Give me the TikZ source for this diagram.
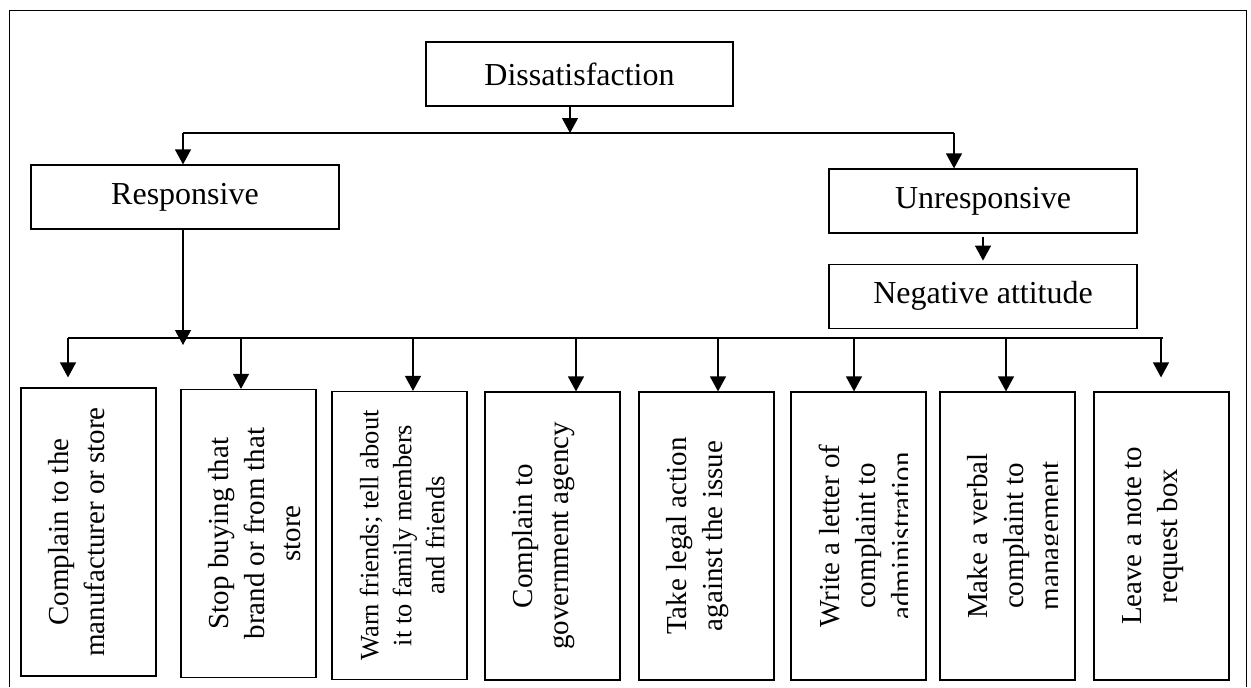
\documentclass[tikz,border=0pt]{standalone}
\usepackage{fontspec}
\setmainfont{Liberation Serif}
\usetikzlibrary{arrows.meta,positioning}

\begin{document}
\begin{tikzpicture}[x=0.5pt,y=-0.5pt,
	box/.style={draw,line width=0.6pt,inner sep=0pt},
	headbox/.style={box,minimum width=154pt,minimum height=32pt,font=\fontsize{16}{19}\selectfont},
	actbox/.style={box,minimum width=67.5pt,minimum height=144pt},
	acttext/.style={rotate=90,anchor=north,align=center,inner sep=0pt,font=\fontsize{14.5}{18}\selectfont},
	link/.style={line width=0.6pt},
	arr/.style={link,-{Triangle[length=7.5pt,width=8pt]}}]
	\useasboundingbox (0,0) rectangle (1251,687);
	% Draw the frame (open at the bottom)
	\draw [line width=0.5pt] (9,687) -- (9,10) -- (1246,10) -- (1246,687);
	% Draw the top boxes
	\node [headbox,minimum width=153.5pt] (dis) at (579.5,74) {Dissatisfaction};
	\node [headbox] (resp) at (185,197) {Responsive};
	\node [headbox] (unresp) at (983,201) {Unresponsive};
	\node [headbox,below=15pt of unresp] (neg) {Negative attitude};
	% Split into the two branches
	\coordinate (split) at (570,133);
	\coordinate (rj) at (183,133);
	\coordinate (uj) at (954,133);
	\draw [arr] (dis.south -| split) -- (split);
	\draw [link] (rj) -- (uj);
	\draw [arr] (rj) -- (rj |- resp.north);
	\draw [arr] (uj) -- (uj |- unresp.north);
	\draw [arr,shorten <=1.5pt,shorten >=1.5pt] (unresp.south) -- (neg.north);
	% Draw the line down from Responsive and the bus line
	\coordinate (rtip) at (183,345);
	\draw [arr] (resp.south -| rtip) -- (rtip);
	\draw [link] (68,338) -- (1163,338);
	% Draw the eight action boxes
	\node [actbox] (b1) at (88.5,532) {};
	\node [actbox] (b2) at (248.5,533.5) {};
	\node [actbox] (b3) at (399.5,535.5) {};
	\node [actbox] (b4) at (552.5,536) {};
	\node [actbox] (b5) at (706.5,536) {};
	\node [actbox] (b6) at (858.5,536) {};
	\node [actbox] (b7) at (1007.5,536) {};
	\node [actbox] (b8) at (1161.5,536) {};
	% Arrows from the bus line down to the boxes
	\foreach \i/\x/\s in {1/68/5pt,2/241/0pt,3/413/0pt,4/576/0pt,5/718/0pt,6/854/0pt,7/1006/0pt,8/1161/7pt} {
		\coordinate (d\i) at (\x,338);
		\draw [arr,shorten >=\s] (d\i) -- (d\i |- b\i.north);
	}
	% Texts in the boxes, turned to read upwards
	\node [acttext] (t1) at ([xshift=14pt]b1.west) {Complain to the\\manufacturer or store};
	\begin{scope}
		\clip (b2.north west) rectangle ([xshift=-8pt]b2.south east);
		\node [acttext] (t2) at ([xshift=14pt]b2.west) {Stop buying that\\brand or from that\\store};
	\end{scope}
	\node [acttext,font=\fontsize{13.25}{16.5}\selectfont] (t3) at ([xshift=14pt]b3.west) {Warn friends; tell about\\it to family members\\and friends};
	\node [acttext] (t4) at ([xshift=14pt]b4.west) {Complain to\\government agency};
	\node [acttext] (t5) at ([xshift=14pt]b5.west) {Take legal action\\against the issue};
	\begin{scope}
		\clip (b6.north west) rectangle ([xshift=-9.5pt]b6.south east);
		\node [acttext] (t6) at ([xshift=14pt]b6.west) {Write a letter of\\complaint to\\administration};
	\end{scope}
	\begin{scope}
		\clip (b7.north west) rectangle ([xshift=-9pt]b7.south east);
		\node [acttext] (t7) at ([xshift=14pt]b7.west) {Make a verbal\\complaint to\\management};
	\end{scope}
	\node [acttext] (t8) at ([xshift=14.5pt]b8.west) {Leave a note to\\request box};
\end{tikzpicture}
\end{document}
